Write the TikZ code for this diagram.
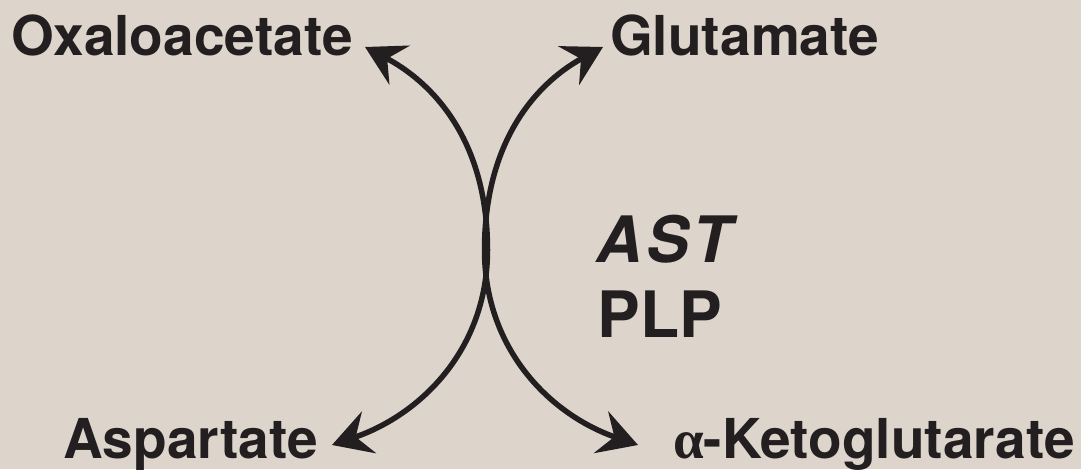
\documentclass[tikz,border=0pt]{standalone}
\usepackage{fontspec}
\setsansfont{TeX Gyre Heros}
\newfontfamily\grkfont{Liberation Serif}
\usetikzlibrary{arrows.meta}
\definecolor{bgbeige}{HTML}{DDD5CB}
\definecolor{inkdark}{HTML}{231F20}
\begin{document}
\begin{tikzpicture}[x=1pt,y=-1pt,
  lbl/.style={inner sep=0pt,text=inkdark,font=\sffamily\bfseries\fontsize{55}{60}\selectfont},
  enz/.style={inner sep=0pt,text=inkdark,font=\sffamily\bfseries\fontsize{64}{70}\selectfont},
  rxn/.style={draw=inkdark,line width=5.5pt,{Stealth[length=39pt,width=44pt,inset=14pt]}-{Stealth[length=39pt,width=44pt,inset=14pt]}}]
\useasboundingbox (0,0) rectangle (1081,469);
\fill[bgbeige] (0,0) rectangle (1081,469);
% labels
\node[lbl,anchor=base west] (oxa) at (11,55) {Oxaloacetate};
\node[lbl,anchor=base west] (glu) at (610,55) {Glutamate};
\node[lbl,anchor=base west] (asp) at (63,458) {Aspartate};
\node[lbl,anchor=base east] (akg) at (1075,458) {{\grkfont\bfseries α}-Ketoglutarate};
\node[enz,anchor=base] (ast) at (664,262) {\addfontfeatures{LetterSpace=6}\itshape AST};
\node[enz,anchor=base] (plp) at (660,337) {PLP};
% connector end points
\coordinate (oxatip) at (365,47);
\coordinate (asptip) at (332,445);
\coordinate (glutip) at (603,47);
\coordinate (akgtip) at (638,445);
\coordinate (midL) at (487.5,250);
\coordinate (midR) at (484.5,250);
% curves
\draw[rxn] (oxatip) .. controls (428,80) and (487.5,135) .. (midL)
  .. controls (487.5,350) and (420,415) .. (asptip);
\draw[rxn] (glutip) .. controls (542,80) and (484.5,135) .. (midR)
  .. controls (484.5,350) and (551,415) .. (akgtip);
\end{tikzpicture}
\end{document}
